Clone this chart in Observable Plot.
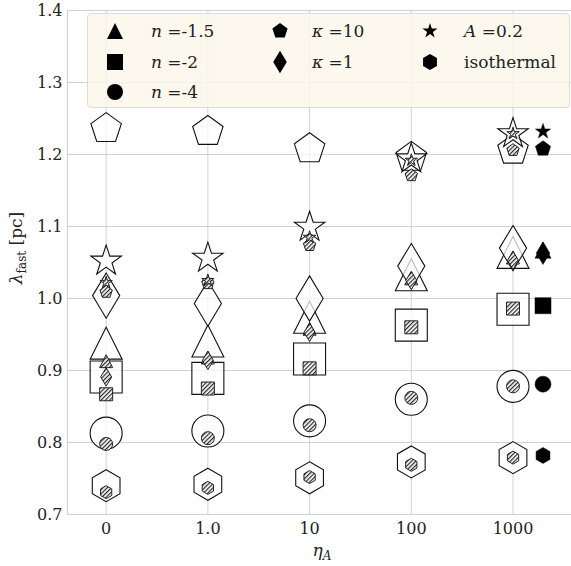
<!DOCTYPE html>
<html><head><meta charset="utf-8">
<script src="https://cdn.jsdelivr.net/npm/d3@7"></script>
<script src="https://cdn.jsdelivr.net/npm/@observablehq/plot@0.6"></script>
<style>
body{margin:0;background:#fff;}
#wrap{position:relative;width:571px;height:566px;font-family:"DejaVu Serif",serif;color:#222;overflow:hidden;}
#chart{position:absolute;left:0;top:0;}
#legend{position:absolute;left:87px;top:13px;width:483px;height:95px;background:rgba(253,246,234,0.82);border:1px solid #dcdcdc;border-radius:4px;box-sizing:border-box;}
.item{position:absolute;font-size:17px;line-height:20px;white-space:nowrap;}
.item svg{position:absolute;}
.lab{position:absolute;font-size:17px;line-height:22px;white-space:nowrap;}
</style></head><body>
<svg width="0" height="0" style="position:absolute">
  <defs>
    <pattern id="hatch" patternUnits="userSpaceOnUse" width="3" height="3" patternTransform="rotate(45)">
      <rect width="3" height="3" fill="#ffffff"></rect>
      <line x1="0.6" y1="0" x2="0.6" y2="3" stroke="#2a2a2a" stroke-width="1.3"></line>
    </pattern>
  </defs>
</svg>
<div id="wrap"><div id="chart"></div><div id="legend"></div>
<div class="lab" style="left:19px;top:248px;transform:translate(-50%,-50%) rotate(-90deg);"><i>λ</i><sub style="font-size:12px">fast</sub> [pc]</div>
<div class="lab" style="left:322px;top:553px;transform:translate(-50%,-50%);"><i>η</i><sub style="font-size:12px"><i>A</i></sub></div>
</div>
<script>
// ---- data ----
const etaLabels = ["0", "1.0", "10", "100", "1000"];
const etaIndex = [0, 1, 2, 3, 4];
const yTicks = [0.7, 0.8, 0.9, 1.0, 1.1, 1.2, 1.3, 1.4];
const seriesKeys = ["n15", "n2", "n4", "k10", "k1", "A02", "iso"];

// large open markers
const openN15 = [0.938, 0.941, 0.974, 1.033, 1.064];
const openN2  = [0.891, 0.889, 0.916, 0.963, 0.985];
const openN4  = [0.813, 0.816, 0.830, 0.860, 0.878];
const openK10 = [1.236, 1.232, 1.208, 1.196, 1.206];
const openK1  = [1.004, 0.993, 1.000, 1.045, 1.070];
const openA02 = [1.052, 1.056, 1.099, 1.194, 1.229];
const openIso = [0.740, 0.742, 0.751, 0.773, 0.779];

// small hatched markers
const hatchN15 = [0.913, 0.918, 0.958, 1.028, 1.057];
const hatchN2  = [0.867, 0.875, 0.903, 0.960, 0.986];
const hatchN4  = [0.798, 0.806, 0.824, 0.862, 0.878];
const hatchK10 = [1.009, 1.021, 1.074, 1.171, 1.206];
const hatchK1  = [0.891, 0.914, 0.953, 1.025, 1.053];
const hatchA02 = [1.022, 1.025, 1.085, 1.192, 1.229];
const hatchIso = [0.731, 0.737, 0.752, 0.769, 0.779];

// solid reference markers beside the last column
const refValues = [1.067, 0.990, 0.881, 1.208, 1.063, 1.232, 0.782];

const legendLabels = [
  "<i>n</i> =-1.5", "<i>n</i> =-2", "<i>n</i> =-4",
  "<i>κ</i> =10", "<i>κ</i> =1", "<i>A</i> =0.2", "isothermal"
];

// ---- symbols (matplotlib-like) ----
function poly(ctx, pts) { ctx.moveTo(pts[0][0], pts[0][1]); for (let k = 1; k < pts.length; k++) ctx.lineTo(pts[k][0], pts[k][1]); ctx.closePath(); }
function regular(n, r, inner) {
  const pts = [];
  const m = inner ? 2 * n : n;
  for (let k = 0; k < m; k++) {
    const a = -Math.PI / 2 + k * 2 * Math.PI / m;
    const rr = inner && k % 2 ? r * inner : r;
    pts.push([rr * Math.cos(a), rr * Math.sin(a)]);
  }
  return pts;
}
const R = s => Math.sqrt(s / Math.PI);
const symTriangle = {draw(c, s) { const r = R(s); poly(c, [[0, -r], [r, r], [-r, r]]); }};
const symSquare = {draw(c, s) { const r = R(s); poly(c, [[-r, -r], [r, -r], [r, r], [-r, r]]); }};
const symCircle = {draw(c, s) { const r = R(s); c.moveTo(r, 0); c.arc(0, 0, r, 0, 2 * Math.PI); c.closePath(); }};
const symPentagon = {draw(c, s) { poly(c, regular(5, R(s))); }};
const symThinDiamond = {draw(c, s) { const r = R(s) * Math.SQRT2; poly(c, [[0, -r], [0.6 * r, 0], [0, r], [-0.6 * r, 0]]); }};
const symStar = {draw(c, s) { poly(c, regular(5, R(s), 0.381966)); }};
const symHexagon = {draw(c, s) { poly(c, regular(6, R(s))); }};
const symbols = [symTriangle, symSquare, symCircle, symPentagon, symThinDiamond, symStar, symHexagon];

const openSets = [openN15, openN2, openN4, openK10, openK1, openA02, openIso];
const hatchSets = [hatchN15, hatchN2, hatchN4, hatchK10, hatchK1, hatchA02, hatchIso];

const openRows = [], hatchRows = [], refRows = [];
seriesKeys.forEach((key, s) => {
  etaIndex.forEach(i => {
    openRows.push({s, x: i, y: openSets[s][i]});
    hatchRows.push({s, x: i, y: hatchSets[s][i]});
  });
  refRows.push({s, x: etaIndex[etaIndex.length - 1], y: refValues[s]});
});

const xDomain = [-0.38, 4.575];
const gridColor = "#d2d2d2";
const serif = "'DejaVu Serif', serif";

function dotsFor(rows, opts) {
  return seriesKeys.map((k, s) => Plot.dot(rows.filter(d => d.s === s), {x: "x", y: "y", symbol: symbols[s], ...opts}));
}

const chart = Plot.plot({
  width: 571, height: 566,
  marginLeft: 67, marginRight: 0, marginTop: 10, marginBottom: 52,
  style: {fontFamily: serif, fontSize: "16px", color: "#222", background: "transparent"},
  x: {domain: xDomain, axis: null},
  y: {domain: [0.7, 1.4], axis: null},
  marks: [
    Plot.ruleY(yTicks, {stroke: gridColor, strokeWidth: 1}),
    Plot.ruleX(etaIndex, {stroke: gridColor, strokeWidth: 1}),
    Plot.ruleX([xDomain[0]], {stroke: gridColor, strokeWidth: 1.2}),
    Plot.axisX(etaIndex, {tickSize: 0, tickPadding: 8, tickFormat: i => etaLabels[i], label: null, fontSize: 16, fontFamily: serif}),
    Plot.axisY(yTicks, {tickSize: 0, tickPadding: 5, tickFormat: d3.format(".1f"), label: null, fontSize: 16, fontFamily: serif}),
    ...dotsFor(openRows, {r: 16, fill: "white", fillOpacity: 0.72, stroke: "#111", strokeWidth: 1.1}),
    ...dotsFor(hatchRows, {r: 6.5, fill: "url(#hatch)", stroke: "#111", strokeWidth: 0.9}),
    ...dotsFor(refRows, {r: 8, fill: "#000", stroke: "#000", strokeWidth: 0.5, dx: 30})
  ]
});
document.getElementById("chart").appendChild(chart);

// ---- legend ----
const legend = document.getElementById("legend");
const colX = [115, 280, 430], textX = [151, 312, 464], rowY = [31, 62, 92];
const order = [[0, 0, 0], [1, 0, 1], [2, 0, 2], [3, 1, 0], [4, 1, 1], [5, 2, 0], [6, 2, 1]];
order.forEach(([s, col, row]) => {
  const p = d3.path();
  symbols[s].draw(p, 8 * 8 * Math.PI);
  const svgNS = "http://www.w3.org/2000/svg";
  const svg = document.createElementNS(svgNS, "svg");
  svg.setAttribute("width", 24); svg.setAttribute("height", 24);
  svg.style.position = "absolute";
  svg.style.left = (colX[col] - 87 - 12 - 1) + "px";
  svg.style.top = (rowY[row] - 13 - 12 - 1) + "px";
  const path = document.createElementNS(svgNS, "path");
  path.setAttribute("d", p.toString());
  path.setAttribute("transform", "translate(12,12)");
  path.setAttribute("fill", "#000");
  svg.appendChild(path);
  legend.appendChild(svg);
  const t = document.createElement("div");
  t.className = "item";
  t.style.left = (textX[col] - 87 - 1) + "px";
  t.style.top = (rowY[row] - 13 - 1 - 10) + "px";
  t.innerHTML = legendLabels[s];
  legend.appendChild(t);
});
</script>
</body></html>
